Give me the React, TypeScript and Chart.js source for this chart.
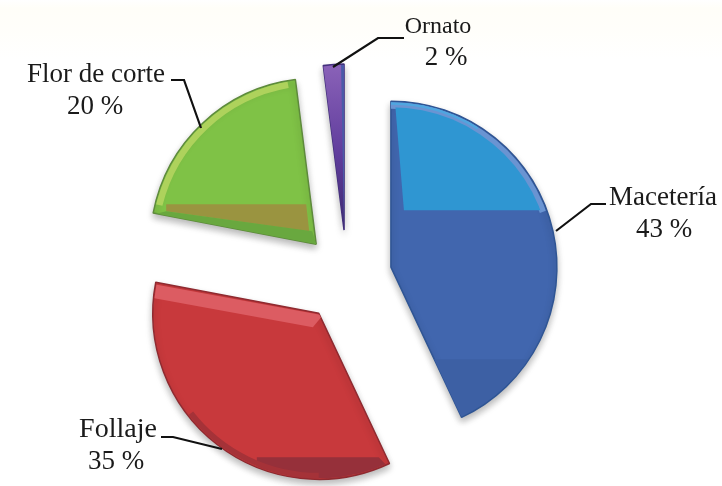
import React, { useEffect, useRef } from "react";
import { Chart, registerables } from "chart.js";

Chart.register(...registerables);

const categories = ["Macetería", "Follaje", "Flor de corte", "Ornato"];
const shares = [43, 35, 20, 2];
const shareLabels = ["43 %", "35 %", "20 %", "2 %"];
const baseColors = ["#4166ae", "#c8393c", "#7fc246", "#5f3f9e"];
const edgeColors = ["#2f5594", "#8f2a30", "#5e8a3c", "#43307c"];
const explode = [45, 46, 45, 47];

const SERIF = '"Liberation Serif", serif';

type Lbl = { name: [number, number]; pct: [number, number]; size: number; pctSize: number; leader: [number, number][] };
const labelLayout: Lbl[] = [
  { name: [663, 205], pct: [664, 237], size: 27, pctSize: 27, leader: [[606, 204], [591, 204], [556, 231]] },
  { name: [118, 437], pct: [116, 469], size: 28, pctSize: 27, leader: [[161, 437], [173, 437], [222, 449]] },
  { name: [96, 82], pct: [95, 114], size: 27, pctSize: 27, leader: [[171, 80], [184, 80], [201, 128]] },
  { name: [438, 33], pct: [446, 65], size: 24, pctSize: 27, leader: [[404, 38], [378, 38], [333, 67]] },
];

const bevelPlugin = {
  id: "bevel",
  afterDatasetsUpdate(chart: any) {
    chart.getDatasetMeta(0).data.forEach((a: any, i: number) => {
      const mid = (a.startAngle + a.endAngle) / 2;
      a.x += Math.cos(mid) * explode[i];
      a.y += Math.sin(mid) * explode[i];
    });
  },
  beforeDatasetsDraw(chart: any) {
    const c = chart.ctx;
    c.save();
    c.shadowColor = "rgba(0,0,0,0.28)";
    c.shadowBlur = 7;
    c.shadowOffsetY = 4;
    c.shadowOffsetX = 0;
  },
  afterDatasetsDraw(chart: any) {
    const c: CanvasRenderingContext2D = chart.ctx;
    c.restore();
    const arcs = chart.getDatasetMeta(0).data;
    arcs.forEach((a: any, i: number) => {
      const cx = a.x, cy = a.y, R = a.outerRadius;
      c.save();
      c.beginPath();
      c.moveTo(cx, cy);
      c.arc(cx, cy, R - 1, a.startAngle, a.endAngle);
      c.closePath();
      c.clip();
      const poly = (pts: number[][], col: string) => {
        c.fillStyle = col;
        c.beginPath();
        pts.forEach((p, k) => (k ? c.lineTo(cx + p[0], cy + p[1]) : c.moveTo(cx + p[0], cy + p[1])));
        c.closePath();
        c.fill();
      };
      const rim = (r: number, w: number, d0: number, d1: number, col: string) => {
        c.strokeStyle = col;
        c.lineWidth = w;
        c.beginPath();
        c.arc(cx, cy, r, ((d0 - 90) * Math.PI) / 180, ((d1 - 90) * Math.PI) / 180);
        c.stroke();
      };
      if (i === 0) {
        poly([[0, 92], [R, 92], [R, R], [0, R]], "#3d60a4");
        rim(R - 4, 7, 0, 70, "#6a94d2");
        rim(R - 2, 3, 0, 32, "#4fa6e0");
        c.save();
        c.beginPath();
        c.arc(cx, cy, R - 6, -Math.PI / 2, 0);
        c.lineTo(cx, cy);
        c.closePath();
        c.clip();
        poly([[4, -R], [R, -R], [R, -57], [13, -57]], "#2f96d2");
        c.restore();
      } else if (i === 1) {
        poly([[-170, -30], [4, 2], [-6, 14], [-170, -16]], "#dc5c62");
        poly([[-62, 144], [60, 144], [90, 175], [-62, 175]], "#96303a");
        rim(R - 3, 7, 180, 232, "#a53238");
      } else if (i === 2) {
        rim(R - 4, 7, 284, 350, "#aed25c");
        poly([[-150, -40], [-10, -40], [-7, -13], [-150, -33]], "#9a9440");
        poly([[-170, -28], [0, 0], [-4, -13], [-150, -33]], "#69a83f");
      } else {
        const g = c.createLinearGradient(0, cy - R, 0, cy);
        g.addColorStop(0, "#8a62b8");
        g.addColorStop(0.55, "#5f3c9c");
        g.addColorStop(1, "#3d2a70");
        c.fillStyle = g;
        c.fillRect(cx - 40, cy - R, 60, R);
        poly([[-3, -R], [0, 0], [3, -R]], "#4a5aa8");
      }
      c.restore();
    });

    c.save();
    c.fillStyle = "#1a1a1a";
    c.strokeStyle = "#111";
    c.textAlign = "center";
    c.textBaseline = "alphabetic";
    labelLayout.forEach((l, i) => {
      c.font = `${l.size}px ${SERIF}`;
      c.fillText(categories[i], l.name[0], l.name[1]);
      c.font = `${l.pctSize}px ${SERIF}`;
      c.fillText(shareLabels[i], l.pct[0], l.pct[1]);
      c.lineWidth = 2.2;
      c.beginPath();
      l.leader.forEach((p, k) => (k ? c.lineTo(p[0], p[1]) : c.moveTo(p[0], p[1])));
      c.stroke();
    });
    c.restore();
  },
};

export default function App() {
  const ref = useRef<HTMLCanvasElement>(null);
  useEffect(() => {
    const chart = new Chart(ref.current!, {
      type: "pie",
      data: {
        labels: categories,
        datasets: [
          {
            data: shares,
            backgroundColor: baseColors,
            borderColor: edgeColors,
            borderWidth: 1.5,
          },
        ],
      },
      options: {
        responsive: false,
        animation: false,
        radius: 166,
        devicePixelRatio: 1,
        layout: { padding: { left: 0, right: 28, top: 68, bottom: 0 } },
        plugins: { legend: { display: false }, tooltip: { enabled: false } },
      } as any,
      plugins: [bevelPlugin],
    });
    return () => chart.destroy();
  }, []);
  return (
    <div
      style={{
        position: "absolute",
        left: 0,
        top: 0,
        width: 722,
        height: 486,
        background: "linear-gradient(#fff 0, #fffef8 8px, #fffefa 28px, #fff 60px)",
        overflow: "hidden",
      }}
    >
      <canvas ref={ref} width={722} height={486} style={{ display: "block", filter: "blur(0.5px)" }} />
    </div>
  );
}
